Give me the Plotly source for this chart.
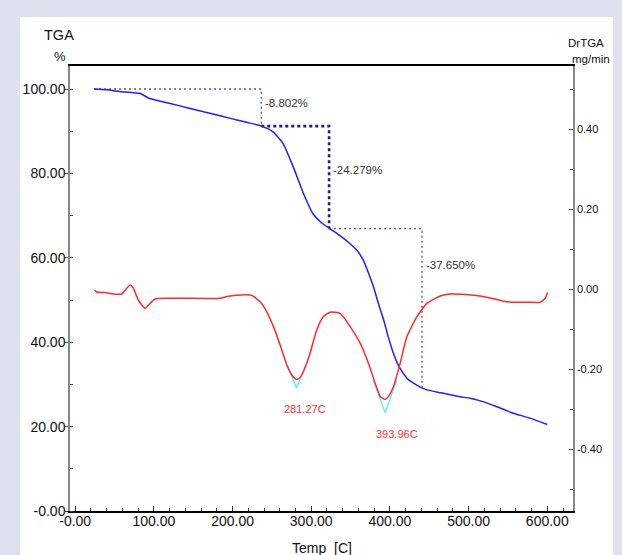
import plotly.graph_objects as go

# ---- data ----
tga_t = [24, 40, 56, 75, 82, 94, 111, 133, 154, 175, 196, 218, 237, 251, 264, 277, 290, 302,
         313, 323, 336, 349, 358, 366, 373, 379, 385, 392, 398, 404, 410, 417, 423, 430, 438, 447,
         465, 489, 502, 515, 536, 555, 578, 600]
tga_pct = [100, 99.8, 99.4, 99.1, 99.0, 97.8, 97.0, 96.0, 95.0, 94.1, 93.1, 92.1, 91.2, 89.9, 87.1,
           81.6, 75.3, 70.5, 68.3, 67.0, 65.3, 63.4, 61.8, 59.5, 56.3, 53.2, 49.4, 45.3, 41.2, 37.6,
           34.8, 32.6, 31.2, 30.3, 29.4, 28.7, 28.0, 27.1, 26.7, 26.1, 24.7, 23.3, 22.0, 20.5]

dr_t = [24.4, 27.4, 37.9, 48.5, 59.1, 65.5, 69.7, 73.9, 80.2, 88.8, 95.1, 101.5, 120.6, 184.2, 192.7,
        209.6, 224.5, 235, 243.5, 252, 260.5, 269, 275.3, 281.27, 285.5, 290, 298.6, 307, 315.5, 324,
        336.8, 349.5, 362.3, 372.8, 381.3, 387.7, 393.96, 398.2, 404.5, 413, 421.6, 434.3, 447, 464,
        476.7, 489.4, 514.8, 536, 548.8, 574, 591, 597.5, 600.4]
dr_val = [-0.0025, -0.0075, -0.009, -0.0125, -0.0125, 0.002, 0.01, 0.002, -0.0275, -0.048, -0.036,
          -0.025, -0.023, -0.023, -0.019, -0.015, -0.016, -0.032, -0.057, -0.094, -0.14, -0.19, -0.215,
          -0.226, -0.222, -0.207, -0.16, -0.1025, -0.069, -0.058, -0.061, -0.094, -0.136, -0.186, -0.236,
          -0.269, -0.276, -0.269, -0.244, -0.186, -0.119, -0.069, -0.036, -0.0175, -0.0125, -0.013,
          -0.0175, -0.026, -0.032, -0.033, -0.033, -0.023, -0.009]

peak1_t = [269.7, 281.27, 292.3]
peak1_v = [-0.19, -0.248, -0.1925]
peak2_t = [378.4, 393.96, 408.9]
peak2_v = [-0.226, -0.309, -0.2275]
peak_labels = ["281.27C", "393.96C"]
peak_label_t = [291.6, 408.9]
peak_label_v = [-0.30, -0.363]

step_t = [24, 236.5, 322.7, 440.8]
step_lvl = [100, 91.2, 66.92, 29.27]
step_labels = ["-8.802%", "-24.279%", "-37.650%"]
step_label_y = [96.6, 80.8, 58.3]

x_ticks = [0, 100, 200, 300, 400, 500, 600]
x_ticktext = ["-0.00", "100.00", "200.00", "300.00", "400.00", "500.00", "600.00"]
y_ticks = [0, 20, 40, 60, 80, 100]
y_ticktext = ["-0.00", "20.00", "40.00", "60.00", "80.00", "100.00"]
y2_ticks = [-0.4, -0.2, 0.0, 0.2, 0.4]
y2_ticktext = ["-0.40", "-0.20", "0.00", "0.20", "0.40"]

FONT = "Liberation Sans, Arial, sans-serif"
LAV = "#dfe1ef"

fig = go.Figure()

# step (dotted) lines
styles = [dict(color="#5050a8", width=1.3, dash="2px,3px"),
          dict(color="#1c1c80", width=2.6, dash="3px,3px"),
          dict(color="#5050a8", width=1.3, dash="2px,3px")]
for i in range(3):
    xs = [step_t[i], step_t[i + 1], step_t[i + 1]]
    ys = [step_lvl[i], step_lvl[i], step_lvl[i + 1]]
    fig.add_trace(go.Scatter(x=xs, y=ys, mode="lines", line=styles[i], hoverinfo="skip",
                             showlegend=False, yaxis="y"))

fig.add_trace(go.Scatter(x=tga_t, y=tga_pct, mode="lines",
                         line=dict(color="#1f1fff", width=1.5, shape="spline", smoothing=0.6),
                         showlegend=False, yaxis="y"))

fig.add_trace(go.Scatter(x=peak1_t, y=peak1_v, mode="lines", line=dict(color="#3ff5f5", width=1.2),
                         showlegend=False, yaxis="y2"))
fig.add_trace(go.Scatter(x=peak2_t, y=peak2_v, mode="lines", line=dict(color="#3ff5f5", width=1.2),
                         showlegend=False, yaxis="y2"))
fig.add_trace(go.Scatter(x=dr_t, y=dr_val, mode="lines",
                         line=dict(color="#ff2a2a", width=1.5, shape="spline", smoothing=0.5),
                         showlegend=False, yaxis="y2"))

annotations = []
for i in range(3):
    annotations.append(dict(x=step_t[i + 1] + 2, y=step_label_y[i], xref="x", yref="y",
                            text=step_labels[i], showarrow=False, xanchor="left", yanchor="middle",
                            font=dict(family=FONT, size=11.5, color="#333333")))
for i in range(2):
    annotations.append(dict(x=peak_label_t[i], y=peak_label_v[i], xref="x", yref="y2",
                            text=peak_labels[i], showarrow=False, xanchor="center", yanchor="middle",
                            font=dict(family=FONT, size=11, color="#ff3030")))

annotations += [
    dict(x=-0.022, y=1.07, xref="paper", yref="paper", text="TGA", showarrow=False,
         font=dict(family=FONT, size=14.5, color="#111"), xanchor="center", yanchor="middle"),
    dict(x=-0.02, y=1.022, xref="paper", yref="paper", text="%", showarrow=False,
         font=dict(family=FONT, size=13, color="#111"), xanchor="center", yanchor="middle"),
    dict(x=1.025, y=1.052, xref="paper", yref="paper", text="DrTGA", showarrow=False,
         font=dict(family=FONT, size=11.5, color="#111"), xanchor="center", yanchor="middle"),
    dict(x=1.036, y=1.015, xref="paper", yref="paper", text="mg/min", showarrow=False,
         font=dict(family=FONT, size=11.5, color="#111"), xanchor="center", yanchor="middle"),
    dict(x=0.5, y=-0.0825, xref="paper", yref="paper", text="Temp&nbsp; [C]", showarrow=False,
         font=dict(family=FONT, size=14, color="#111"), xanchor="center", yanchor="middle"),
]

fig.update_layout(
    width=622, height=555,
    margin=dict(l=70, r=49, t=66, b=44),
    paper_bgcolor=LAV, plot_bgcolor="white",
    showlegend=False,
    annotations=annotations,
    shapes=[dict(type="rect", xref="paper", yref="paper", x0=-0.0994, x1=1.0795, y0=-0.12,
                 y1=1.110, fillcolor="white", line=dict(width=0), layer="below")],
    xaxis=dict(range=[-6.6, 632.7], tickvals=x_ticks, ticktext=x_ticktext, showgrid=False,
               zeroline=False, showline=True, linecolor="black", linewidth=1.5, mirror=True,
               ticks="inside", ticklen=5, tickcolor="#222", ticklabelstandoff=-4,
               minor=dict(dtick=20, ticks="inside", ticklen=3, tickcolor="#222"),
               tickfont=dict(family=FONT, size=14, color="#111")),
    yaxis=dict(range=[0, 105.45], tickvals=y_ticks, ticktext=y_ticktext, showgrid=False,
               zeroline=False, showline=True, linecolor="#888", linewidth=1.5,
               ticks="outside", ticklen=3, tickcolor="#444", ticklabelstandoff=-3,
               minor=dict(dtick=10, ticks="inside", ticklen=3, tickcolor="#444"),
               tickfont=dict(family=FONT, size=14, color="#111")),
    yaxis2=dict(range=[-0.555, 0.5575], overlaying="y", side="right", tickvals=y2_ticks,
                ticktext=y2_ticktext, showgrid=False, zeroline=False, showline=True,
                linecolor="#888", linewidth=1.5, ticks="inside", ticklen=4, tickcolor="#444",
                minor=dict(dtick=0.1, ticks="inside", ticklen=3, tickcolor="#444"),
                tickfont=dict(family=FONT, size=11, color="#111")),
)

fig.write_html(
    "out.html",
    config={"displayModeBar": False},
    post_script=("document.documentElement.style.margin='0';document.body.style.margin='0';"
                 "document.documentElement.style.background='" + LAV + "';"
                 "document.body.style.background='" + LAV + "';"),
)
